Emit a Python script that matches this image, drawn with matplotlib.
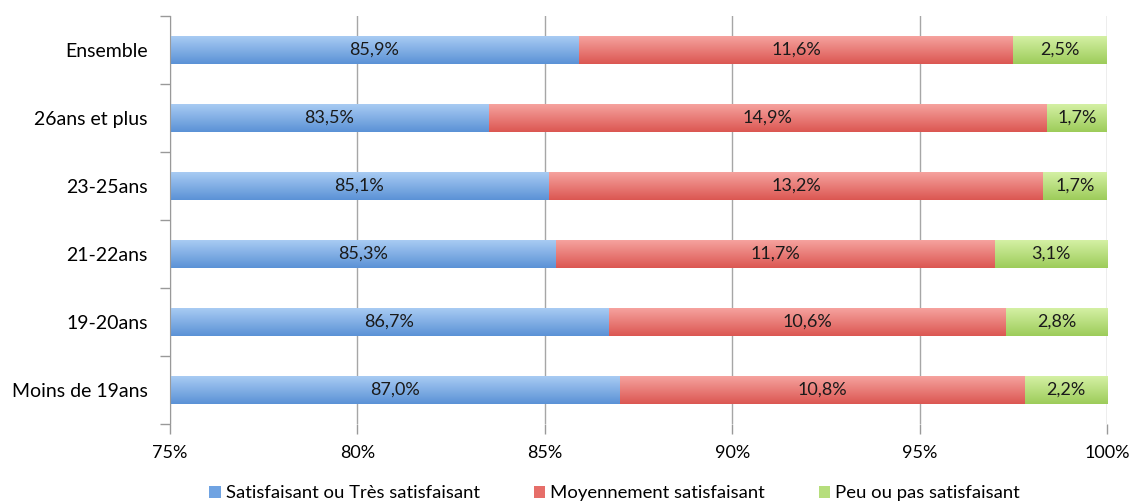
import numpy as np
import matplotlib.pyplot as plt
from matplotlib.colors import LinearSegmentedColormap

plt.rcParams['font.family'] = ['Lato', 'DejaVu Sans']

categories = ['Moins de 19ans', '19-20ans', '21-22ans', '23-25ans', '26ans et plus', 'Ensemble']
satisfait = [87.0, 86.7, 85.3, 85.1, 83.5, 85.9]
moyen = [10.8, 10.6, 11.7, 13.2, 14.9, 11.6]
peu = [2.2, 2.8, 3.1, 1.7, 1.7, 2.5]
series_names = ['Satisfaisant ou Très satisfaisant', 'Moyennement satisfaisant', 'Peu ou pas satisfaisant']
x_ticks = [75, 80, 85, 90, 95, 100]

# gradient colours (top, bottom) like the Excel bars
grads = [('#a8cbf3', '#5b92d6'), ('#f6a29e', '#db5752'), ('#d4f0a4', '#9dcc5a')]
mids = ['#6fa3e2', '#e66e69', '#b6de7c']

x_min, x_max = 75, 100
fig = plt.figure(figsize=(11.32, 5.03), dpi=100)
ax = fig.add_axes([0.1502, 0.157, 0.8278, 0.811])

y = np.arange(len(categories))
h = 0.4
left = np.zeros(len(categories))
grad = np.linspace(0, 1, 64).reshape(-1, 1)
for vals, name, (c_top, c_bot), mid in zip([satisfait, moyen, peu], series_names, grads, mids):
    vals = np.array(vals)
    bars = ax.barh(y, vals, h, left=left, color=mid, label=name, zorder=2, linewidth=0)
    cmap = LinearSegmentedColormap.from_list('g', [c_bot, c_top])
    for b in bars:
        x0 = max(b.get_x(), x_min)
        x1 = min(b.get_x() + b.get_width(), x_max)
        y0, y1 = b.get_y(), b.get_y() + b.get_height()
        ax.imshow(grad, cmap=cmap, aspect='auto', extent=[x0, x1, y0, y1],
                  origin='lower', zorder=2.5)
    for yi, l, v in zip(y, left, vals):
        xc = (max(l, x_min) + min(l + v, x_max)) / 2
        ax.text(xc, yi, f'{v:.1f}%'.replace('.', ','), ha='center', va='center',
                fontsize=13, color='#1a1a1a', zorder=4)
    left = left + vals

ax.set_xlim(x_min, x_max)
ax.set_ylim(-0.5, len(categories) - 0.5)
ax.set_xticks(x_ticks)
ax.set_xticklabels([f'{t}%' for t in x_ticks], fontsize=13)
ax.set_yticks(y)
ax.set_yticklabels(categories, fontsize=14)
ax.set_yticks(np.arange(-0.5, len(categories), 1), minor=True)
ax.tick_params(axis='y', which='major', length=0, pad=16)
ax.tick_params(axis='y', which='minor', length=7, color='#999999', width=1)
ax.tick_params(axis='x', length=7, color='#999999', width=1, pad=8)
ax.xaxis.grid(True, color='#a6a6a6', linewidth=1, zorder=0)
ax.set_axisbelow(True)
for s in ['top', 'right', 'bottom']:
    ax.spines[s].set_visible(False)
ax.spines['left'].set_color('#999999')

leg = fig.legend(loc='lower center', bbox_to_anchor=(0.543, -0.03), ncol=3, frameon=False,
                 fontsize=13.3, handlelength=0.6, handleheight=0.6, handletextpad=0.3,
                 columnspacing=2.9)

fig.savefig('out.png', dpi=100)
